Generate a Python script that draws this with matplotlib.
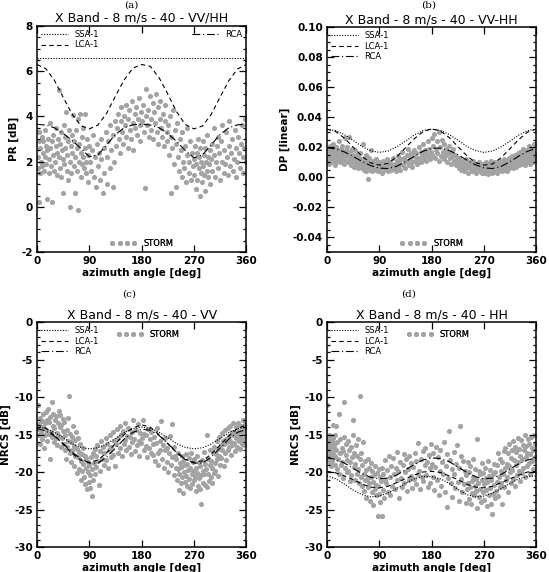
import matplotlib
matplotlib.use('Agg')
import matplotlib.pyplot as plt
from matplotlib.lines import Line2D
from matplotlib.ticker import MultipleLocator, FormatStrFormatter

# model curves, read every 15 deg of azimuth
az_curve = [0, 15, 30, 45, 60, 75, 90, 105, 120, 135, 150, 165, 180,
            195, 210, 225, 240, 255, 270, 285, 300, 315, 330, 345, 360]

ssa_pr = [6.6] * 25
lca_pr = [6.3, 6.12, 5.6, 4.85, 4.12, 3.6, 3.45, 3.62, 4.15, 4.9, 5.62, 6.14, 6.3,
          6.22, 5.72, 5.0, 4.22, 3.65, 3.45, 3.58, 4.1, 4.85, 5.58, 6.1, 6.3]
rca_pr = [3.65, 3.62, 3.5, 3.25, 2.95, 2.6, 2.22, 2.3, 2.75, 3.2, 3.5, 3.63, 3.66,
          3.62, 3.5, 3.25, 2.9, 2.5, 2.17, 2.3, 2.75, 3.2, 3.5, 3.63, 3.65]

ssa_dp = [0.032, 0.031, 0.0283, 0.0245, 0.0205, 0.0176, 0.0165, 0.0174, 0.0202, 0.024, 0.028, 0.031, 0.032,
          0.0312, 0.0285, 0.0247, 0.0207, 0.0177, 0.0165, 0.0174, 0.0202, 0.024, 0.028, 0.031, 0.032]
lca_dp = [0.032, 0.0304, 0.026, 0.020, 0.014, 0.0096, 0.008, 0.0092, 0.0135, 0.0195, 0.0255, 0.0302, 0.0322,
          0.0308, 0.0265, 0.0205, 0.0145, 0.0098, 0.008, 0.0088, 0.013, 0.019, 0.025, 0.030, 0.032]
rca_dp = [0.0195, 0.0188, 0.0168, 0.0138, 0.0105, 0.0077, 0.006, 0.0057, 0.0072, 0.0103, 0.0138, 0.0172, 0.0192,
          0.0194, 0.0178, 0.015, 0.0115, 0.0083, 0.0062, 0.0057, 0.0072, 0.0103, 0.014, 0.0172, 0.0192]

ssa_vv = [-14.0, -14.2, -14.7, -15.4, -16.2, -16.7, -16.9, -16.75, -16.25, -15.5, -14.75, -14.2, -14.0,
          -14.2, -14.7, -15.4, -16.2, -16.7, -16.9, -16.75, -16.25, -15.5, -14.75, -14.2, -14.0]
lca_vv = [-13.7, -14.1, -15.1, -16.3, -17.5, -18.4, -18.7, -18.4, -17.4, -16.2, -15.0, -14.1, -13.7,
          -14.0, -15.0, -16.2, -17.4, -18.3, -18.7, -18.5, -17.6, -16.4, -15.2, -14.2, -13.7]
rca_vv = [-14.2, -14.5, -15.2, -16.2, -17.3, -18.2, -18.8, -18.8, -18.0, -16.8, -15.6, -14.7, -14.3,
          -14.4, -15.1, -16.2, -17.3, -18.3, -18.8, -18.8, -18.0, -16.8, -15.6, -14.7, -14.3]

ssa_hh = [-20.5, -20.9, -21.6, -22.4, -23.0, -23.3, -23.2, -22.8, -22.2, -21.5, -20.9, -20.6, -20.6,
          -20.9, -21.5, -22.3, -23.0, -23.3, -23.2, -22.8, -22.2, -21.5, -20.9, -20.6, -20.5]
lca_hh = [-19.9, -20.1, -20.5, -21.0, -21.6, -22.0, -22.1, -21.9, -21.4, -20.9, -20.4, -20.0, -19.9,
          -20.05, -20.5, -21.0, -21.6, -22.0, -22.1, -21.9, -21.4, -20.9, -20.4, -20.0, -19.9]
rca_hh = [-18.1, -18.3, -18.8, -19.5, -20.2, -20.7, -20.9, -20.8, -20.4, -19.7, -19.0, -18.4, -18.1,
          -18.2, -18.6, -19.3, -20.0, -20.6, -20.9, -20.8, -20.3, -19.6, -18.9, -18.4, -18.1]

# STORM data points (azimuth deg, value)
storm_pr = [
    (1,2.2),(2,1.7),(3,0.2),(3,2.9),(4,3.3),(5,1.5),(6,2.6),(7,2.0),(8,3.1),(9,1.8),(10,2.4),(11,2.9),
    (12,1.6),(13,2.2),(14,3.4),(15,2.7),(16,1.9),(17,0.35),(18,2.5),(19,3.0),(20,1.5),(21,2.1),(22,3.7),
    (23,2.6),(24,1.8),(25,0.2),(26,2.9),(27,2.3),(28,3.2),(29,1.6),
    (31,2.0),(32,2.7),(33,3.5),(34,1.4),(35,2.4),(36,3.0),(37,2.2),(38,5.15),(39,1.7),(40,2.8),(41,3.3),
    (42,1.3),(43,2.5),(44,0.6),(45,2.1),(46,3.6),(47,1.9),(48,2.6),(49,3.1),(50,4.2),(51,1.6),(52,2.3),
    (53,2.9),(54,1.2),(55,3.4),(56,2.0),(57,0.0),(58,2.7),(59,1.5),
    (60,3.2),(61,2.4),(62,4.05),(63,1.8),(64,2.9),(65,2.2),(66,0.6),(67,3.4),(68,1.6),(69,2.6),(70,-0.15),
    (71,3.9),(72,2.0),(73,2.8),(74,4.1),(75,1.3),(76,2.4),(77,3.1),(78,1.9),(79,2.2),(80,3.5),(81,1.7),
    (82,4.1),(83,2.6),(84,1.5),(85,2.0),(86,3.0),(87,2.3),(88,1.1),(89,2.7),
    (91,2.0),(93,1.6),(95,2.5),(96,3.2),(98,1.3),(100,2.2),(101,0.9),(103,2.8),(105,1.8),(106,2.4),
    (108,1.2),(110,3.0),(111,2.1),(113,0.6),(115,2.6),(116,1.5),(118,3.3),(120,2.2),(121,1.0),(123,2.9),
    (125,3.6),(126,1.7),(128,2.5),(130,3.2),(131,0.9),(133,2.0),(134,3.8),
    (136,2.7),(138,3.5),(139,4.1),(141,3.0),(142,2.4),(144,3.8),(145,4.4),(147,3.3),(148,2.8),(150,4.0),
    (151,3.6),(153,4.5),(154,3.1),(156,2.6),(157,3.9),(159,4.3),(160,3.4),(162,3.0),(163,4.7),(165,3.7),
    (166,2.5),(168,4.1),(169,3.5),(171,4.4),(172,3.2),(174,3.9),(175,4.8),(177,3.6),(178,2.9),(179,4.2),
    (181,3.8),(183,4.5),(184,3.3),(186,0.85),(187,4.0),(188,5.2),(190,3.6),(191,4.3),(193,3.1),(194,4.9),
    (196,3.9),(197,3.4),(199,4.6),(200,3.0),(202,4.2),(203,3.7),(205,5.0),(206,3.3),(208,4.4),(209,2.8),
    (211,3.9),(212,4.7),(214,3.5),(215,3.1),(217,4.1),(218,2.7),(220,3.8),(221,4.5),(223,3.3),(224,2.9),
    (226,3.6),(227,2.3),(229,4.0),(230,0.6),(231,3.1),(233,2.6),(234,4.3),(236,1.9),(237,3.4),(239,2.8),
    (240,0.9),(241,3.7),(243,2.2),(244,1.6),(246,3.0),(247,2.5),(249,1.3),(250,3.3),(252,2.0),(253,1.7),
    (255,2.7),(256,1.1),(258,2.3),(259,3.5),(261,1.5),(262,2.0),(264,2.9),(265,1.2),(267,2.4),(268,1.8),
    (270,2.1),(271,1.4),(272,2.7),(273,0.8),(274,1.9),(275,2.4),(276,1.2),(277,3.0),(278,1.7),(279,2.2),
    (280,0.5),(281,2.6),(282,1.5),(283,2.0),(284,1.1),(285,2.9),(286,1.8),(287,2.3),(288,1.4),(289,2.6),
    (290,0.7),(291,2.0),(292,1.6),(293,3.2),(294,2.2),(295,1.3),(296,1.9),(297,2.5),(298,1.0),(299,2.1),
    (301,2.8),(302,1.6),(304,2.3),(305,3.5),(306,1.3),(308,2.0),(309,2.7),(311,1.7),(312,3.1),(313,2.4),
    (315,1.2),(316,2.9),(318,2.0),(319,3.6),(321,1.5),(322,2.5),(324,1.9),(325,3.3),(327,2.2),(328,1.4),
    (330,2.7),(331,3.8),(333,1.8),(334,2.4),(336,3.0),(337,1.6),(339,2.1),(340,3.4),(342,2.6),(343,1.3),
    (345,2.0),(346,3.1),(348,2.4),(349,1.7),(351,2.8),(352,3.6),(354,2.2),(355,1.5),(357,2.6),(358,3.9),
    (359,2.0),
]

storm_dp = [
    (1,0.012),(2,0.018),(3,0.009),(4,0.015),(5,0.021),(6,0.011),(7,0.016),(8,0.013),(9,0.019),(10,0.010),
    (11,0.022),(12,0.014),(13,0.017),(14,0.008),(15,0.012),(16,0.020),(17,0.015),(18,0.011),(19,0.018),
    (20,0.024),(21,0.013),(22,0.016),(23,0.010),(24,0.019),(25,0.014),(26,0.021),(27,0.012),(28,0.017),
    (29,0.009),(30,0.015),(31,0.026),(32,0.011),(33,0.018),(34,0.014),(35,0.020),(36,0.010),(37,0.016),
    (38,0.027),(39,0.012),(40,0.017),(41,0.008),(42,0.013),(43,0.019),(44,0.011),(45,0.015),(46,0.007),
    (47,0.014),(48,0.010),(49,0.018),(50,0.012),(51,0.009),(52,0.015),(53,0.011),(54,0.006),(55,0.013),
    (56,0.009),(57,0.016),(58,0.008),(59,0.012),
    (60,0.010),(61,0.006),(62,0.022),(63,0.009),(64,0.005),(65,0.012),(66,0.007),(67,0.015),(68,0.004),
    (69,0.010),(70,-0.001),(71,0.008),(72,0.006),(73,0.013),(74,0.005),(75,0.009),(76,0.018),(77,0.007),
    (78,0.004),(79,0.011),(80,0.006),(82,0.009),(84,0.005),(85,0.012),(87,0.007),(88,0.004),(90,0.010),
    (91,0.006),(93,0.008),(94,0.003),(96,0.011),(97,0.006),(99,0.009),(100,0.005),(102,0.007),(103,0.012),
    (105,0.004),(106,0.008),(108,0.006),(109,0.010),(111,0.005),(112,0.008),(114,0.013),(115,0.006),
    (117,0.009),(118,0.004),
    (120,0.011),(122,0.007),(123,0.014),(125,0.009),(126,0.005),(128,0.012),(129,0.017),(131,0.008),
    (132,0.013),(134,0.010),(135,0.006),(137,0.015),(138,0.011),(140,0.019),(141,0.008),(143,0.013),
    (144,0.016),(146,0.010),(147,0.007),(149,0.014),(150,0.018),(152,0.011),(153,0.016),(155,0.009),
    (156,0.013),(158,0.020),(159,0.012),(161,0.017),(162,0.010),(164,0.015),(165,0.022),(167,0.013),
    (168,0.018),(170,0.011),(171,0.016),(173,0.024),(174,0.014),(176,0.019),(177,0.012),(179,0.017),
    (180,0.026),(181,0.015),(183,0.021),(184,0.029),(186,0.013),(187,0.018),(189,0.024),(190,0.016),
    (192,0.030),(193,0.011),(195,0.020),(196,0.014),(198,0.025),(199,0.017),(201,0.012),(202,0.022),
    (204,0.015),(205,0.019),(207,0.010),(208,0.016),(210,0.021),(211,0.013),(213,0.017),(214,0.009),
    (216,0.014),(217,0.019),(219,0.011),(220,0.015),(222,0.008),(223,0.013),
    (225,0.010),(227,0.006),(228,0.013),(230,0.008),(231,0.005),(233,0.011),(234,0.007),(236,0.004),
    (237,0.009),(239,0.012),(240,0.006),(242,0.008),(243,0.003),(245,0.010),(246,0.006),(248,0.008),
    (249,0.004),(251,0.011),(252,0.007),(254,0.005),(255,0.009),(257,0.003),(258,0.007),(260,0.005),
    (261,0.010),(263,0.004),(264,0.008),(266,0.006),(267,0.003),(269,0.009),
    (270,0.005),(271,0.008),(272,0.003),(273,0.006),(274,0.010),(275,0.004),(276,0.007),(277,0.002),
    (278,0.006),(279,0.009),(280,0.004),(281,0.007),(282,0.005),(283,0.011),(284,0.003),(285,0.006),
    (286,0.008),(287,0.004),(288,0.007),(289,0.010),(290,0.005),(291,0.008),(292,0.003),(293,0.006),
    (294,0.009),(295,0.004),(296,0.007),(297,0.011),(298,0.005),(299,0.008),(300,0.006),(301,0.010),
    (302,0.004),(303,0.007),(304,0.012),(305,0.005),(306,0.009),(307,0.006),(308,0.011),(309,0.007),
    (310,0.004),(311,0.010),(312,0.008),(313,0.013),(314,0.006),(315,0.009),(316,0.011),(317,0.007),
    (318,0.014),(319,0.009),(320,0.006),(321,0.012),(322,0.008),(323,0.015),(324,0.010),(325,0.007),
    (326,0.013),(327,0.009),(328,0.016),(329,0.011),
    (330,0.008),(331,0.014),(332,0.010),(333,0.017),(334,0.012),(335,0.009),(336,0.015),(337,0.011),
    (338,0.019),(339,0.013),(340,0.008),(341,0.016),(342,0.012),(343,0.010),(344,0.018),(345,0.014),
    (346,0.011),(347,0.021),(348,0.013),(349,0.009),(350,0.016),(351,0.012),(352,0.019),(353,0.014),
    (354,0.010),(355,0.017),(356,0.013),(357,0.022),(358,0.011),(359,0.015),
]

storm_vv = [
    (1,-14.2),(2,-11.0),(3,-15.1),(4,-13.6),(5,-16.3),(6,-12.8),(7,-14.7),(8,-13.2),(9,-15.6),(10,-12.3),
    (11,-14.0),(12,-16.8),(13,-13.5),(14,-15.0),(15,-12.0),(16,-14.4),(17,-13.0),(18,-15.8),(19,-11.6),
    (20,-14.9),(21,-13.3),(22,-18.3),(23,-12.6),(24,-14.6),(25,-10.6),(26,-15.3),(27,-13.8),(28,-12.2),
    (29,-16.0),(30,-14.1),(31,-13.0),(32,-15.5),(33,-12.5),(34,-14.8),(35,-16.4),(36,-13.4),(37,-11.8),
    (38,-15.2),(39,-14.0),(40,-12.4),(41,-16.7),(42,-13.7),(43,-15.4),(44,-12.9),(45,-14.5),
    (46,-16.2),(47,-13.3),(48,-17.0),(49,-15.1),(50,-18.2),(51,-14.4),(52,-16.6),(53,-12.8),(54,-15.8),
    (55,-9.9),(56,-17.4),(57,-14.9),(58,-16.0),(59,-18.7),(60,-15.3),(61,-17.1),(62,-13.9),(63,-16.5),
    (64,-19.2),(65,-15.7),(66,-17.8),(67,-14.6),(68,-16.9),(69,-20.1),(70,-18.0),(71,-15.5),(72,-17.3),
    (73,-19.6),(74,-16.3),(75,-18.5),(76,-21.0),(77,-17.6),(78,-19.9),(79,-16.8),(80,-18.9),(81,-20.6),
    (82,-17.9),(83,-21.6),(84,-19.4),(85,-18.1),(86,-22.3),(87,-20.0),(88,-18.6),(89,-21.3),
    (90,-19.1),(91,-22.1),(92,-20.4),(93,-18.0),(94,-23.2),(95,-19.6),(96,-17.5),(97,-21.0),(98,-18.8),
    (99,-16.9),(100,-20.2),(101,-17.8),(102,-19.3),(104,-16.4),(105,-18.5),(106,-21.7),(108,-17.2),
    (109,-19.8),(110,-15.8),(112,-18.2),(113,-16.7),(115,-19.0),(116,-17.5),(118,-15.4),(119,-18.4),
    (121,-16.3),(122,-19.5),(124,-17.0),(125,-15.1),(127,-18.0),(128,-16.6),(130,-14.6),(131,-17.7),
    (133,-15.9),(134,-19.2),
    (136,-16.2),(137,-14.3),(139,-17.4),(140,-15.5),(142,-13.8),(143,-16.8),(145,-15.0),(146,-17.9),
    (148,-14.5),(149,-16.3),(151,-15.7),(152,-13.4),(154,-17.1),(155,-15.2),(157,-14.1),(158,-16.6),
    (160,-15.3),(161,-17.6),(163,-14.7),(164,-16.0),(166,-13.1),(167,-15.6),(169,-17.2),(170,-14.4),
    (172,-16.4),(173,-13.6),(175,-15.9),(176,-17.8),(178,-14.8),(179,-16.1),(181,-15.4),(182,-13.0),
    (184,-17.0),(185,-14.9),(187,-16.5),(188,-15.1),(190,-18.0),(191,-14.2),(193,-16.8),(194,-15.6),
    (196,-17.4),(197,-14.6),(199,-16.2),
    (200,-17.7),(202,-15.3),(203,-18.5),(205,-16.1),(206,-14.1),(208,-17.4),(209,-19.0),(211,-15.8),
    (212,-17.0),(214,-13.2),(215,-18.2),(217,-16.4),(218,-19.4),(220,-17.1),(221,-15.5),(223,-18.7),
    (224,-16.8),(226,-20.0),(227,-17.5),(229,-15.2),(230,-19.1),(232,-13.6),(233,-18.0),(235,-16.6),
    (236,-20.4),(238,-17.8),(239,-19.5),
    (240,-18.3),(241,-21.0),(242,-19.6),(243,-17.4),(244,-22.4),(245,-20.2),(246,-18.8),(247,-21.5),
    (248,-19.3),(249,-17.9),(250,-20.7),(251,-22.8),(252,-18.5),(253,-20.0),(254,-19.0),(255,-21.3),
    (256,-17.6),(257,-20.5),(258,-18.9),(259,-21.8),(260,-19.7),(261,-18.1),(262,-20.9),(263,-22.1),
    (264,-19.4),(265,-17.5),(266,-20.3),(267,-21.6),(268,-18.7),(269,-19.9),(270,-21.1),(271,-18.3),
    (272,-20.6),(273,-22.5),(274,-19.5),(275,-17.8),(276,-20.1),(277,-21.9),(278,-18.6),(279,-20.8),
    (280,-19.2),(281,-22.2),(282,-24.3),(283,-20.4),(284,-18.4),(285,-21.4),(286,-19.8),(287,-17.3),
    (288,-20.2),(289,-21.7),(290,-18.9),(291,-19.6),(292,-22.0),(293,-15.0),(294,-20.3),(295,-18.2),
    (296,-21.2),(297,-19.0),(298,-17.0),(299,-20.6),
    (300,-18.5),(301,-21.5),(302,-19.4),(303,-17.3),(304,-20.1),(305,-16.6),(306,-18.8),(307,-19.9),
    (308,-17.6),(309,-15.9),(310,-18.3),(311,-20.5),(312,-16.9),(313,-17.8),(314,-15.3),(315,-19.0),
    (316,-16.4),(317,-18.1),(318,-14.8),(319,-17.1),(320,-15.9),(321,-19.2),(322,-16.2),(323,-14.4),
    (324,-17.5),(325,-15.6),(326,-18.4),(327,-16.0),(328,-14.1),(329,-17.0),(330,-15.2),(331,-16.7),
    (332,-13.8),(333,-15.9),(334,-17.7),(335,-14.6),(336,-16.4),(337,-15.0),(338,-13.5),(339,-16.1),
    (340,-14.8),(341,-17.2),(342,-15.5),(343,-14.0),(344,-16.6),(345,-15.1),(346,-13.4),(347,-15.8),
    (348,-14.5),(349,-16.9),(350,-15.3),(351,-13.9),(352,-16.2),(353,-14.7),(354,-13.1),(355,-15.6),
    (356,-14.2),(357,-16.4),(358,-13.6),(359,-15.0),
]

storm_hh = [
    (0,-11.0),(1,-16.2),(1,-17.5),(2,-15.4),(2,-18.3),(3,-16.8),(3,-15.0),(4,-17.9),(4,-16.0),(5,-18.8),
    (5,-15.6),(6,-17.1),(6,-16.5),(7,-19.2),(7,-15.2),(8,-17.6),(8,-16.9),(9,-15.8),(9,-18.5),(10,-16.3),
    (10,-13.7),(11,-17.3),(11,-15.5),(12,-18.0),(12,-16.7),(13,-15.1),(13,-17.8),(14,-16.1),(14,-19.0),
    (15,-13.9),
    (16,-17.0),(17,-19.6),(18,-16.0),(19,-18.2),(20,-12.2),(21,-20.3),(22,-17.4),(23,-15.6),(24,-19.1),
    (25,-16.8),(26,-18.7),(27,-20.8),(28,-17.2),(29,-15.3),(30,-10.7),(31,-19.4),(32,-17.7),(33,-16.2),
    (34,-20.0),(35,-18.4),(36,-15.9),(37,-19.8),(38,-17.1),(39,-21.2),(40,-18.6),(41,-16.6),(42,-20.4),
    (43,-18.0),(44,-15.0),(45,-13.0),(46,-19.3),(47,-17.4),(48,-21.0),(49,-18.9),(50,-16.4),(51,-20.2),
    (52,-17.8),(53,-19.6),(54,-15.6),(55,-21.5),(56,-18.3),(57,-9.9),(58,-20.6),(59,-17.5),
    (60,-19.0),(61,-21.8),(62,-16.0),(63,-20.3),(64,-22.5),(65,-18.5),(66,-21.1),(67,-19.7),(68,-23.4),
    (69,-20.9),(70,-18.2),(71,-22.0),(72,-19.4),(73,-21.5),(74,-23.9),(75,-20.6),(76,-18.8),(77,-22.7),
    (78,-19.9),(79,-21.3),(80,-24.4),(81,-20.4),(82,-22.2),(83,-19.2),(84,-21.7),(85,-23.1),(86,-20.1),
    (87,-25.8),(88,-21.9),(89,-19.6),(90,-22.9),(91,-20.7),(92,-24.0),(93,-21.2),(94,-25.9),(95,-19.5),
    (96,-22.4),(97,-20.3),(98,-23.5),(99,-21.0),
    (100,-18.4),(102,-21.5),(103,-19.7),(105,-22.6),(106,-17.8),(108,-20.6),(109,-23.0),(111,-19.2),
    (112,-21.8),(114,-18.1),(115,-20.2),(117,-22.2),(118,-19.5),(120,-17.3),(121,-21.1),(123,-19.9),
    (124,-23.4),(126,-18.7),(127,-20.8),(129,-22.0),(130,-19.0),(132,-17.6),(133,-21.4),(135,-20.0),
    (136,-18.3),(138,-22.5),(139,-19.6),(141,-21.0),(142,-17.9),(144,-20.5),(145,-18.8),(147,-22.1),
    (148,-19.3),(150,-20.9),(151,-17.5),(153,-21.6),(154,-18.5),(156,-20.2),(157,-16.1),(159,-19.8),
    (160,-22.3),(162,-18.2),(163,-20.6),(165,-17.2),(166,-21.2),(168,-19.0),(169,-16.8),(171,-20.4),
    (172,-18.6),(174,-22.0),(175,-17.7),(177,-19.5),(178,-21.5),(179,-16.3),
    (180,-18.9),(182,-20.7),(183,-17.4),(185,-22.4),(186,-19.3),(188,-16.6),(189,-21.1),(191,-18.0),
    (192,-23.0),(194,-19.9),(195,-17.1),(197,-21.8),(198,-18.7),(200,-20.3),(201,-16.0),(203,-22.6),
    (204,-19.2),(206,-17.6),(207,-24.6),(209,-20.8),(210,-14.5),(212,-18.4),(213,-21.5),(215,-19.6),
    (216,-23.3),(218,-17.3),(219,-20.2),(221,-22.1),(222,-18.9),(224,-16.4),(225,-21.3),(227,-19.4),
    (228,-23.8),(229,-13.9),(230,-17.9),(231,-20.9),(233,-22.7),(234,-18.5),(236,-21.6),(237,-19.8),
    (239,-24.1),
    (240,-20.4),(241,-22.3),(242,-18.7),(243,-21.5),(244,-23.6),(245,-20.0),(246,-22.0),(247,-19.2),
    (248,-24.3),(249,-21.2),(250,-22.8),(251,-20.6),(252,-18.3),(253,-23.1),(254,-21.8),(255,-19.6),
    (256,-22.5),(257,-20.9),(258,-24.8),(259,-15.6),(260,-21.4),(261,-23.3),(262,-19.9),(263,-22.2),
    (264,-20.3),(265,-24.0),(266,-21.0),(267,-18.8),(268,-22.7),(269,-20.1),(270,-23.7),(271,-21.6),
    (272,-19.4),(273,-22.4),(274,-20.8),(275,-24.5),(276,-21.3),(277,-18.5),(278,-23.0),(279,-20.5),
    (280,-22.1),(281,-19.7),(282,-24.2),(283,-21.1),(284,-25.6),(285,-20.2),(286,-22.9),(287,-18.9),
    (288,-21.7),(289,-23.5),(290,-20.0),(291,-22.5),(292,-19.1),(293,-21.3),(294,-17.4),(295,-23.2),
    (296,-20.7),(297,-18.3),(298,-22.0),(299,-19.8),
    (300,-21.4),(301,-18.6),(302,-24.2),(303,-20.3),(304,-17.2),(305,-22.0),(306,-19.5),(307,-16.8),
    (308,-21.0),(309,-18.9),(310,-20.7),(311,-17.5),(312,-22.6),(313,-19.2),(314,-16.3),(315,-20.0),
    (316,-18.1),(317,-21.5),(318,-17.0),(319,-19.7),(320,-15.9),(321,-20.9),(322,-18.4),(323,-16.6),
    (324,-21.9),(325,-19.0),(326,-17.3),(327,-20.4),(328,-15.4),(329,-18.7),(330,-19.9),(331,-16.9),
    (332,-21.2),(333,-17.9),(334,-15.7),(335,-20.1),(336,-18.3),(337,-16.4),(338,-19.4),(339,-17.1),
    (340,-15.1),(341,-20.6),(342,-18.0),(343,-16.5),(344,-19.2),(345,-17.4),(346,-15.6),(347,-18.8),
    (348,-16.2),(349,-20.2),(350,-17.6),(351,-15.3),(352,-18.5),(353,-16.8),(354,-19.6),(355,-17.0),
    (356,-15.0),(357,-18.1),(358,-16.3),(359,-17.8),
]

GRAY = '#a3a3a3'
DOT = (0, (1, 1.4))
DASH = (0, (4, 3))
DASHDOT = (0, (7, 2.5, 1, 2.5))
LW = 0.8

# tick labels and axis labels are bold in the original
plt.rcParams['font.weight'] = 'bold'
plt.rcParams['axes.labelweight'] = 'bold'

fig = plt.figure(figsize=(5.49, 5.72), dpi=100)

W = 0.381
H = 0.393
positions = {
    'a': [0.0674, 0.5594, W, 0.395],
    'b': [0.5956, 0.5594, W, H],
    'c': [0.0674, 0.0437, W, H],
    'd': [0.5956, 0.0437, W, H],
}


def style_axes(ax, ylim, ymajor, yminor, ylabel, fmt):
    ax.set_xlim(0, 360)
    ax.set_ylim(*ylim)
    ax.xaxis.set_major_locator(MultipleLocator(90))
    ax.yaxis.set_major_locator(MultipleLocator(ymajor))
    ax.yaxis.set_minor_locator(MultipleLocator(yminor))
    ax.yaxis.set_major_formatter(FormatStrFormatter(fmt))
    ax.tick_params(which='both', direction='in', top=True, right=True, width=0.9)
    ax.tick_params(which='major', length=5, labelsize=7.5, pad=3)
    ax.tick_params(which='minor', length=2.5)
    for s in ax.spines.values():
        s.set_linewidth(1.1)
    ax.set_xlabel('azimuth angle [deg]', fontsize=7.5, labelpad=1)
    ax.set_ylabel(ylabel, fontsize=7.5, labelpad=2)


def draw_panel(ax, storm, ssa, lca, rca):
    az = [p[0] for p in storm]
    val = [p[1] for p in storm]
    ax.plot(az, val, 'o', ms=3.7, color=GRAY, mec='none', zorder=1)
    ax.plot(az_curve, ssa, color='k', lw=LW, ls=DOT, zorder=2)
    ax.plot(az_curve, lca, color='k', lw=LW, ls=DASH, zorder=2)
    ax.plot(az_curve, rca, color='k', lw=LW, ls=DASHDOT, zorder=2)


def h_line(ls):
    return Line2D([], [], color='k', lw=LW, ls=ls)


def h_storm():
    return Line2D([], [], color=GRAY, ls='none', marker='o', ms=3.6, mec='none')


leg_kw = dict(frameon=False, prop={'size': 6, 'weight': 'normal'}, handlelength=3.2,
              handletextpad=0.8, labelspacing=0.15, borderpad=0.3, borderaxespad=0.2)


def add_legend(ax, handles, labels, **kw):
    opts = dict(leg_kw)
    opts.update(kw)
    leg = ax.legend(handles, labels, **opts)
    ax.add_artist(leg)
    return leg


def set_title(ax, s):
    ax.set_title(s, fontsize=9, fontweight='normal', pad=3)


# (a) PR
ax = fig.add_axes(positions['a'])
draw_panel(ax, storm_pr, ssa_pr, lca_pr, rca_pr)
style_axes(ax, (-2, 8), 2, 0.5, 'PR [dB]', '%d')
set_title(ax, 'X Band - 8 m/s - 40 - VV/HH')
add_legend(ax, [h_line(DOT), h_line(DASH)], ['SSA-1', 'LCA-1'], loc='upper left')
add_legend(ax, [h_line(DASHDOT)], ['RCA'], loc='upper right')
add_legend(ax, [h_storm()], ['STORM'], loc='lower center', numpoints=4,
           bbox_to_anchor=(0.5, 0.0))

# (b) DP
ax = fig.add_axes(positions['b'])
draw_panel(ax, storm_dp, ssa_dp, lca_dp, rca_dp)
style_axes(ax, (-0.05, 0.10), 0.02, 0.005, 'DP [linear]', '%.2f')
set_title(ax, 'X Band - 8 m/s - 40 - VV-HH')
add_legend(ax, [h_line(DOT), h_line(DASH), h_line(DASHDOT)], ['SSA-1', 'LCA-1', 'RCA'],
           loc='upper left')
add_legend(ax, [h_storm()], ['STORM'], loc='lower center', numpoints=4,
           bbox_to_anchor=(0.5, 0.0))

# (c) NRCS VV
ax = fig.add_axes(positions['c'])
draw_panel(ax, storm_vv, ssa_vv, lca_vv, rca_vv)
style_axes(ax, (-30, 0), 5, 1, 'NRCS [dB]', '%d')
set_title(ax, 'X Band - 8 m/s - 40 - VV')
add_legend(ax, [h_line(DOT), h_line(DASH), h_line(DASHDOT)], ['SSA-1', 'LCA-1', 'RCA'],
           loc='upper left')
add_legend(ax, [h_storm()], ['STORM'], loc='upper left', numpoints=4,
           bbox_to_anchor=(0.36, 0.985))

# (d) NRCS HH
ax = fig.add_axes(positions['d'])
draw_panel(ax, storm_hh, ssa_hh, lca_hh, rca_hh)
style_axes(ax, (-30, 0), 5, 1, 'NRCS [dB]', '%d')
set_title(ax, 'X Band - 8 m/s - 40 - HH')
add_legend(ax, [h_line(DOT), h_line(DASH), h_line(DASHDOT)], ['SSA-1', 'LCA-1', 'RCA'],
           loc='upper left')
add_legend(ax, [h_storm()], ['STORM'], loc='upper left', numpoints=4,
           bbox_to_anchor=(0.36, 0.985))

# panel letters above the titles
for x, y, s in [(0.24, 0.9995, '(a)'), (0.78, 0.9995, '(b)'),
                (0.235, 0.494, '(c)'), (0.745, 0.494, '(d)')]:
    fig.text(x, y, s, ha='center', va='top', fontsize=7.5, fontweight='normal',
             family='DejaVu Serif')

fig.savefig('out.png', dpi=100)
